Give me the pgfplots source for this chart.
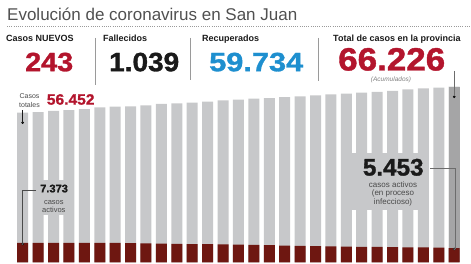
\documentclass[border=0pt]{standalone}
\usepackage{pgfplots}
\pgfplotsset{compat=1.18}
\usepackage{pgfplotstable}
\usepackage{graphicx}
\usepackage{fontspec}
\setmainfont{Liberation Sans}
\newfontfamily\heavyfont[FakeBold=1.2]{Liberation Sans Bold}

\definecolor{barGray}{HTML}{C7C8CA}
\definecolor{lastGray}{HTML}{A5A5A6}
\definecolor{activeRed}{HTML}{6E1711}
\definecolor{numRed}{HTML}{B3152D}
\definecolor{numBlue}{HTML}{1E8FCF}
\definecolor{numBlack}{HTML}{1A1A1A}
\definecolor{titleGray}{HTML}{505050}
\definecolor{noteGray}{HTML}{4A4A4A}
\definecolor{ruleGray}{HTML}{9A9A9A}

% daily totals (accumulated cases) and active cases
\pgfplotstableread{
day total active
0  56452 7373
1  56650 7390
2  57117 7410
3  57390 7400
4  57781 7430
5  58407 7420
6  58680 7390
7  58798 7300
8  59189 7220
9  59736 7100
10 59971 7020
11 60245 6960
12 60636 6900
13 61027 6840
14 61340 6700
15 61691 6600
16 61926 6500
17 62317 6400
18 62591 6280
19 62982 6180
20 63373 6080
21 63646 5980
22 64037 5920
23 64272 5860
24 64663 5800
25 65210 5720
26 65601 5660
27 65836 5600
28 66226 5453
}\casos

% a bold figure stretched to a given width and height
\newcommand{\fitnum}[3]{\resizebox{#1}{#2}{\heavyfont #3}}

\begin{document}
\begin{tikzpicture}[x=1pt,y=1pt]
\useasboundingbox (0,0) rectangle (471,264);

\begin{axis}[
  at={(15pt,1.5pt)}, anchor=south west,
  scale only axis, width=446.9pt, height=185.82pt,
  xmin=-0.5, xmax=28.5, ymin=0, ymax=70000,
  hide axis, clip=false,
  /pgf/bar width=0.714, /pgf/bar shift=0pt,
]
\addplot[ybar, fill=barGray, draw=none] table[x=day, y=total] {\casos};
\addplot[ybar, fill=lastGray, draw=none] coordinates {(28,66226)};
\addplot[ybar, fill=activeRed, draw=none] table[x=day, y=active] {\casos};
% markers on the first and last day
\addplot[only marks, mark=*, mark size=1.1pt,
  mark options={fill=numBlack, draw=none, yshift=-10pt}]
  coordinates {(0,56452) (28,66226)};
\addplot[only marks, mark=*, mark size=1.1pt,
  mark options={fill=white, draw=none, yshift=-1pt}]
  coordinates {(0,7373) (28,5453)};
\end{axis}

% header
\node[anchor=base west, inner sep=0, text=titleGray,
  font=\fontsize{17}{19}\selectfont] at (7,243.5) {Evolución de coronavirus en San Juan};
\draw[ruleGray, line width=0.6pt, dash pattern=on 0.7pt off 1.5pt] (7,237.3) -- (471,237.3);

\begin{scope}[every node/.style={anchor=base west, inner sep=0, text=numBlack,
  font=\fontsize{9}{10}\selectfont\bfseries}]
\node at (6,222.7)   {Casos NUEVOS};
\node at (103,222.7) {Fallecidos};
\node at (202,222.7) {Recuperados};
\node at (333,222.7) {Total de casos en la provincia};
\end{scope}

\begin{scope}[every node/.style={anchor=south west, inner sep=0}]
\node[text=numRed]   at (25,192.3)  {\fitnum{48pt}{18.5pt}{243}};
\node[text=numBlack] at (109,192.3) {\fitnum{70pt}{18.5pt}{1.039}};
\node[text=numBlue]  at (209,192.3) {\fitnum{94pt}{18.5pt}{59.734}};
\node[text=numRed]   at (338,193)   {\fitnum{107pt}{22.5pt}{66.226}};
\end{scope}
\node[anchor=base, inner sep=0, text=gray, font=\fontsize{6.5}{7}\selectfont\itshape]
  at (391,182.3) {(Acumulados)};

\draw[ruleGray, line width=0.6pt] (95,226) -- (95,179.3);
\draw[ruleGray, line width=0.6pt] (190.7,226) -- (190.7,184.3);
\draw[ruleGray, line width=0.6pt] (318,226) -- (318,182.7);
\draw[ruleGray!70!black, line width=0.6pt] (454.2,193) -- (454.2,168.3);

% accumulated cases on the first day
\node[anchor=base, inner sep=0, text=noteGray, font=\fontsize{7}{8}\selectfont] at (29.5,165) {Casos};
\node[anchor=base, inner sep=0, text=noteGray, font=\fontsize{7}{8}\selectfont] at (29.5,156) {totales};
\node[anchor=south west, inner sep=0, text=numRed] at (46.7,159) {\fitnum{47.6pt}{10.5pt}{56.452}};
\draw[numBlack, line width=0.5pt] (22.7,153.5) -- (22.7,140.7);

% active cases on the first day
\fill[barGray] (38,49) rectangle (70,84);
\node[anchor=south west, inner sep=0, text=numBlack] at (40,71.3) {\fitnum{27.7pt}{7.7pt}{7.373}};
\node[anchor=base, inner sep=0, text=noteGray, font=\fontsize{7.5}{8}\selectfont] at (53.8,59.7) {casos};
\node[anchor=base, inner sep=0, text=noteGray, font=\fontsize{7.5}{8}\selectfont] at (53.8,51) {activos};
\draw[noteGray, line width=0.5pt] (36,74) -- (22.7,74) -- (22.7,20);

% active cases on the last day
\fill[barGray] (350,54) rectangle (428,111);
\node[anchor=south west, inner sep=0, text=numBlack] at (362.7,88) {\fitnum{60.7pt}{16.7pt}{5.453}};
\begin{scope}[every node/.style={anchor=base, inner sep=0, text=noteGray, font=\fontsize{8}{9}\selectfont}]
\node at (393,76.7) {casos activos};
\node at (393,68.2) {(en proceso};
\node at (393,59.5) {infeccioso)};
\end{scope}
\draw[ruleGray!70!black, line width=0.5pt] (430,96) -- (455,96) -- (455,15);
\end{tikzpicture}
\end{document}
